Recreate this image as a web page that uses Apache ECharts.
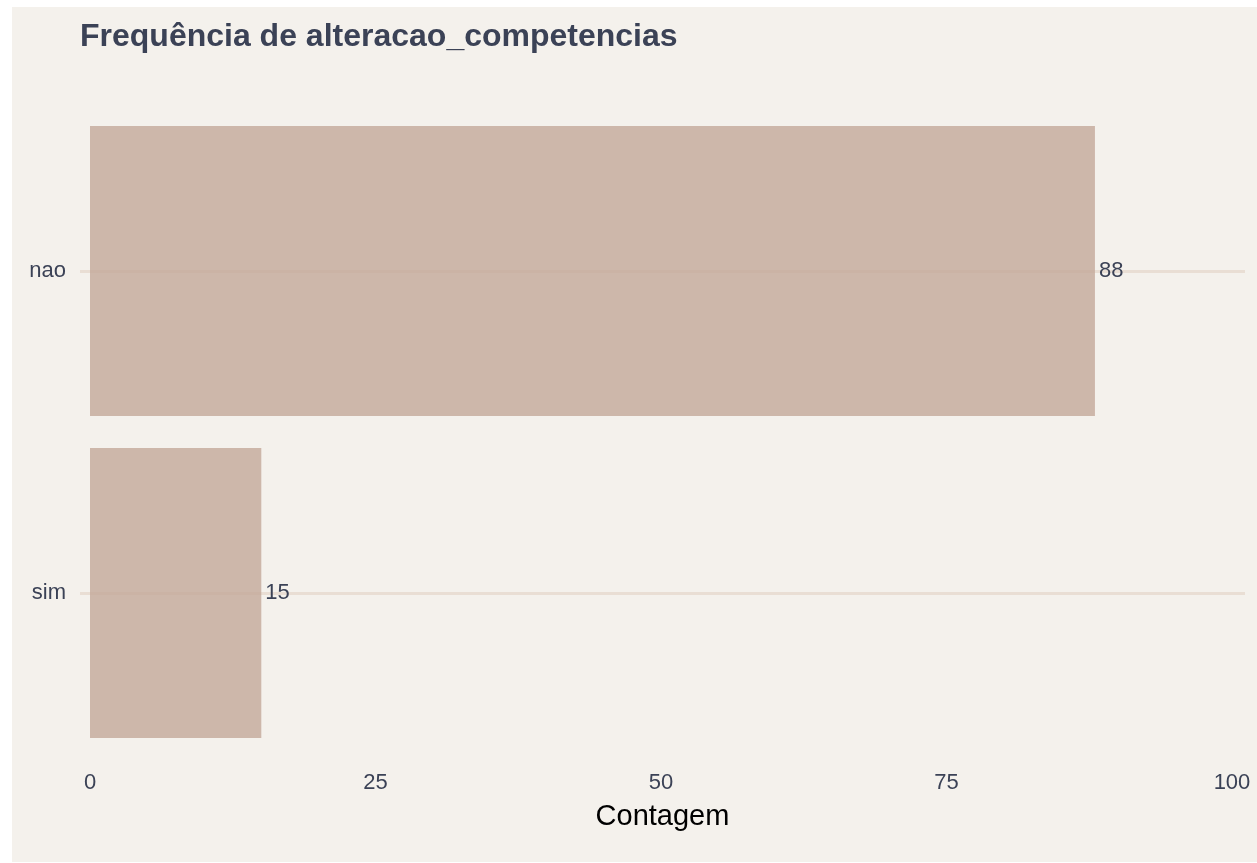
<!DOCTYPE html>
<html>
<head>
<meta charset="utf-8">
<script src="https://cdn.jsdelivr.net/npm/echarts@6/dist/echarts.min.js"></script>
<style>
  html, body { margin: 0; padding: 0; background: #ffffff; }
  #chart { position: absolute; left: 12px; top: 7px; width: 1245px; height: 855px; }
</style>
</head>
<body>
<div id="chart"></div>
<script>
// dados
const categories = ['nao', 'sim'];
const counts = [88, 15];
const xTicks = [0, 25, 50, 75, 100];

const chart = echarts.init(document.getElementById('chart'));

const textColor = '#3b4256';
const font = 'Liberation Sans, Arial, sans-serif';

const option = {
    backgroundColor: '#f4f1ec',
    title: {
        text: 'Frequência de alteracao_competencias',
        left: 63,
        top: 9,
        textStyle: {
            fontFamily: font,
            fontWeight: 'bold',
            fontSize: 32,
            color: textColor
        }
    },
    grid: {
        left: 68,
        right: 12,
        top: 103,
        bottom: 108
    },
    xAxis: {
        type: 'value',
        // petite marge de chaque côté, comme dans ggplot
        min: -0.876,
        max: 101.14,
        axisLine: { show: false },
        axisTick: { show: false },
        splitLine: { show: false },
        axisLabel: {
            customValues: xTicks,
            color: textColor,
            fontSize: 22,
            fontFamily: font,
            margin: 18
        },
        name: 'Contagem',
        nameLocation: 'middle',
        nameGap: 48,
        nameTextStyle: {
            color: '#000000',
            fontSize: 29,
            fontFamily: font
        }
    },
    yAxis: {
        type: 'category',
        data: categories,
        inverse: true,
        axisLine: { show: false, onZero: false },
        // les lignes horizontales passent au centre de chaque catégorie
        axisTick: {
            show: true,
            alignWithLabel: true,
            inside: true,
            length: 1165,
            lineStyle: { color: '#e9ded4', width: 3 }
        },
        splitLine: { show: false },
        axisLabel: {
            color: textColor,
            fontSize: 22,
            fontFamily: font,
            margin: 14
        }
    },
    series: [
        {
            type: 'bar',
            data: counts,
            barWidth: '90%',
            itemStyle: { color: 'rgba(196, 170, 155, 0.82)' },
            label: {
                show: true,
                position: 'right',
                distance: 4,
                color: textColor,
                fontSize: 22,
                fontFamily: font
            },
            silent: true
        }
    ]
};

chart.setOption(option);

window.addEventListener('resize', () => chart.resize());
</script>
</body>
</html>
